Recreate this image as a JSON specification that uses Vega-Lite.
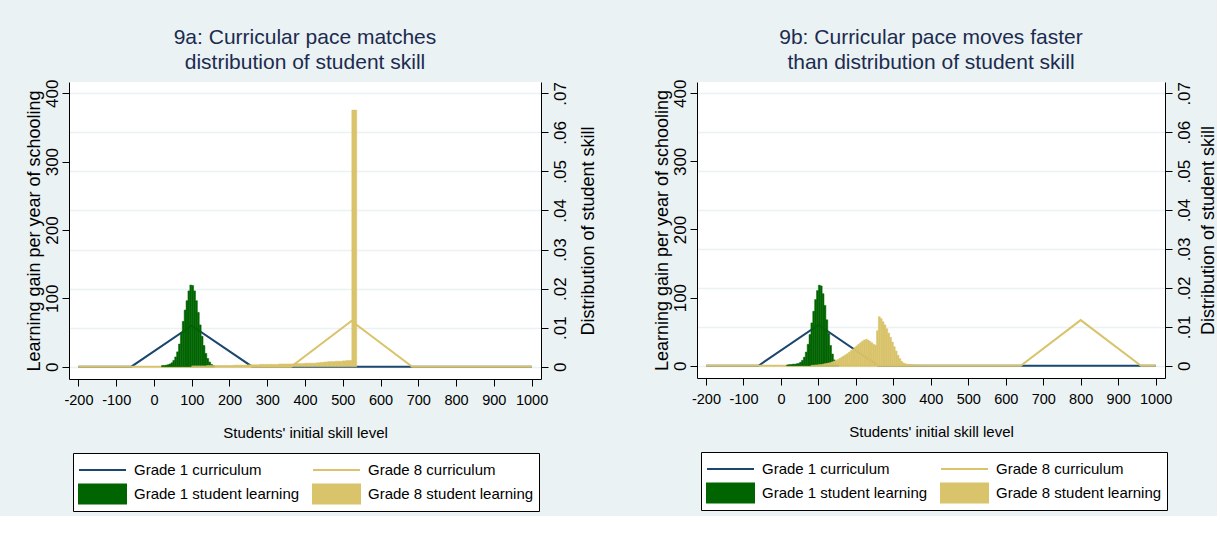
{
  "$schema": "https://vega.github.io/schema/vega-lite/v6.json",
  "background": "#eaf2f3",
  "padding": {"left": 25, "top": 27, "right": 0, "bottom": 4},
  "spacing": 56,
  "config": {
    "font": "Liberation Sans",
    "view": {"stroke": null, "fill": "white"},
    "axis": {
      "domainColor": "#000000", "tickColor": "#000000", "labelColor": "#000000", "titleColor": "#000000",
      "titleFontWeight": "normal", "domainWidth": 1, "tickWidth": 1, "tickSize": 7, "labelFlush": false, "labelOverlap": false, "grid": false
    },
    "axisX": {"labelOverlap": false, "labelSeparation": 0},
    "title": {"font": "Liberation Sans", "fontSize": 21, "fontWeight": "normal", "color": "#1c2b4f", "anchor": "middle", "frame": "group", "baseline": "bottom", "offset": 6, "lineHeight": 25}
  },
  "datasets": {
    "c1": [{"x": -200, "y": 0}, {"x": -60, "y": 0}, {"x": 100, "y": 60}, {"x": 260, "y": 0}, {"x": 1000, "y": 0}],
    "c8a": [{"x": -200, "y": 0}, {"x": 363, "y": 0}, {"x": 523, "y": 67}, {"x": 684, "y": 0}, {"x": 1000, "y": 0}],
    "c8b": [{"x": -200, "y": 0}, {"x": 640, "y": 0}, {"x": 800, "y": 67}, {"x": 961, "y": 0}, {"x": 1000, "y": 0}],
    "g1a": [
      {"x0": 20, "x1": 25, "d": 0.0003}, {"x0": 25, "x1": 30, "d": 0.0003}, {"x0": 30, "x1": 35, "d": 0.0004}, {"x0": 35, "x1": 40, "d": 0.0005},
      {"x0": 40, "x1": 45, "d": 0.0007}, {"x0": 45, "x1": 50, "d": 0.0010}, {"x0": 50, "x1": 55, "d": 0.0016}, {"x0": 55, "x1": 60, "d": 0.0025},
      {"x0": 60, "x1": 65, "d": 0.0038}, {"x0": 65, "x1": 70, "d": 0.0058}, {"x0": 70, "x1": 75, "d": 0.0087}, {"x0": 75, "x1": 80, "d": 0.0116},
      {"x0": 80, "x1": 85, "d": 0.0145}, {"x0": 85, "x1": 90, "d": 0.0169}, {"x0": 90, "x1": 95, "d": 0.0194}, {"x0": 95, "x1": 100, "d": 0.0209},
      {"x0": 100, "x1": 105, "d": 0.0208}, {"x0": 105, "x1": 110, "d": 0.0194}, {"x0": 110, "x1": 115, "d": 0.0169}, {"x0": 115, "x1": 120, "d": 0.0139},
      {"x0": 120, "x1": 125, "d": 0.0107}, {"x0": 125, "x1": 130, "d": 0.0078}, {"x0": 130, "x1": 135, "d": 0.0054}, {"x0": 135, "x1": 140, "d": 0.0034},
      {"x0": 140, "x1": 145, "d": 0.0021}, {"x0": 145, "x1": 150, "d": 0.0012}, {"x0": 150, "x1": 155, "d": 0.0006}, {"x0": 155, "x1": 160, "d": 0.0003}
    ],
    "g8a": [
      {"x0": 100, "x1": 110, "d": 0.0002}, {"x0": 110, "x1": 120, "d": 0.0002}, {"x0": 120, "x1": 130, "d": 0.0002}, {"x0": 130, "x1": 140, "d": 0.0002},
      {"x0": 140, "x1": 150, "d": 0.0003}, {"x0": 150, "x1": 160, "d": 0.0003}, {"x0": 160, "x1": 170, "d": 0.0003}, {"x0": 170, "x1": 180, "d": 0.0003},
      {"x0": 180, "x1": 190, "d": 0.0003}, {"x0": 190, "x1": 200, "d": 0.0003}, {"x0": 200, "x1": 210, "d": 0.0003}, {"x0": 210, "x1": 220, "d": 0.0004},
      {"x0": 220, "x1": 230, "d": 0.0004}, {"x0": 230, "x1": 240, "d": 0.0004}, {"x0": 240, "x1": 250, "d": 0.0004}, {"x0": 250, "x1": 260, "d": 0.0005},
      {"x0": 260, "x1": 270, "d": 0.0005}, {"x0": 270, "x1": 280, "d": 0.0005}, {"x0": 280, "x1": 290, "d": 0.0006}, {"x0": 290, "x1": 300, "d": 0.0006},
      {"x0": 300, "x1": 310, "d": 0.0006}, {"x0": 310, "x1": 320, "d": 0.0006}, {"x0": 320, "x1": 330, "d": 0.0006}, {"x0": 330, "x1": 340, "d": 0.0007},
      {"x0": 340, "x1": 350, "d": 0.0007}, {"x0": 350, "x1": 360, "d": 0.0007}, {"x0": 360, "x1": 370, "d": 0.0007}, {"x0": 370, "x1": 380, "d": 0.0008},
      {"x0": 380, "x1": 390, "d": 0.0008}, {"x0": 390, "x1": 400, "d": 0.0008}, {"x0": 400, "x1": 410, "d": 0.0009}, {"x0": 410, "x1": 420, "d": 0.0009},
      {"x0": 420, "x1": 430, "d": 0.0009}, {"x0": 430, "x1": 440, "d": 0.0010}, {"x0": 440, "x1": 450, "d": 0.0011}, {"x0": 450, "x1": 460, "d": 0.0012},
      {"x0": 460, "x1": 470, "d": 0.0013}, {"x0": 470, "x1": 480, "d": 0.0013}, {"x0": 480, "x1": 490, "d": 0.0014}, {"x0": 490, "x1": 500, "d": 0.0014},
      {"x0": 500, "x1": 510, "d": 0.0015}, {"x0": 510, "x1": 524, "d": 0.0016}, {"x0": 524, "x1": 537, "d": 0.0657}
    ],
    "g1b": [
      {"x0": 15, "x1": 20, "d": 0.0002}, {"x0": 20, "x1": 25, "d": 0.0003}, {"x0": 25, "x1": 30, "d": 0.0003}, {"x0": 30, "x1": 35, "d": 0.0004},
      {"x0": 35, "x1": 40, "d": 0.0004}, {"x0": 40, "x1": 45, "d": 0.0005}, {"x0": 45, "x1": 50, "d": 0.0006}, {"x0": 50, "x1": 55, "d": 0.0009},
      {"x0": 55, "x1": 60, "d": 0.0014}, {"x0": 60, "x1": 65, "d": 0.0022}, {"x0": 65, "x1": 70, "d": 0.0035}, {"x0": 70, "x1": 75, "d": 0.0055},
      {"x0": 75, "x1": 80, "d": 0.0080}, {"x0": 80, "x1": 85, "d": 0.0110}, {"x0": 85, "x1": 90, "d": 0.0140}, {"x0": 90, "x1": 95, "d": 0.0170},
      {"x0": 95, "x1": 100, "d": 0.0193}, {"x0": 100, "x1": 105, "d": 0.0207}, {"x0": 105, "x1": 110, "d": 0.0205}, {"x0": 110, "x1": 115, "d": 0.0185},
      {"x0": 115, "x1": 120, "d": 0.0155}, {"x0": 120, "x1": 125, "d": 0.0118}, {"x0": 125, "x1": 130, "d": 0.0083}, {"x0": 130, "x1": 135, "d": 0.0052},
      {"x0": 135, "x1": 140, "d": 0.0030}, {"x0": 140, "x1": 145, "d": 0.0015}, {"x0": 145, "x1": 150, "d": 0.0007}, {"x0": 150, "x1": 155, "d": 0.0003}
    ],
    "g8b": [
      {"x0": 80, "x1": 85, "d": 0.0001}, {"x0": 85, "x1": 90, "d": 0.0001}, {"x0": 90, "x1": 95, "d": 0.0002}, {"x0": 95, "x1": 100, "d": 0.0002},
      {"x0": 100, "x1": 105, "d": 0.0003}, {"x0": 105, "x1": 110, "d": 0.0003}, {"x0": 110, "x1": 115, "d": 0.0004}, {"x0": 115, "x1": 120, "d": 0.0005},
      {"x0": 120, "x1": 125, "d": 0.0006}, {"x0": 125, "x1": 130, "d": 0.0007}, {"x0": 130, "x1": 135, "d": 0.0008}, {"x0": 135, "x1": 140, "d": 0.0010},
      {"x0": 140, "x1": 145, "d": 0.0012}, {"x0": 145, "x1": 150, "d": 0.0014}, {"x0": 150, "x1": 155, "d": 0.0016}, {"x0": 155, "x1": 160, "d": 0.0019},
      {"x0": 160, "x1": 165, "d": 0.0022}, {"x0": 165, "x1": 170, "d": 0.0025}, {"x0": 170, "x1": 175, "d": 0.0028}, {"x0": 175, "x1": 180, "d": 0.0031},
      {"x0": 180, "x1": 185, "d": 0.0035}, {"x0": 185, "x1": 190, "d": 0.0039}, {"x0": 190, "x1": 195, "d": 0.0043}, {"x0": 195, "x1": 200, "d": 0.0047},
      {"x0": 200, "x1": 205, "d": 0.0051}, {"x0": 205, "x1": 210, "d": 0.0055}, {"x0": 210, "x1": 215, "d": 0.0059}, {"x0": 215, "x1": 220, "d": 0.0063},
      {"x0": 220, "x1": 225, "d": 0.0066}, {"x0": 225, "x1": 230, "d": 0.0068}, {"x0": 230, "x1": 235, "d": 0.0066}, {"x0": 235, "x1": 240, "d": 0.0063},
      {"x0": 240, "x1": 245, "d": 0.0059}, {"x0": 245, "x1": 250, "d": 0.0055}, {"x0": 250, "x1": 255, "d": 0.0053}, {"x0": 255, "x1": 260, "d": 0.0090},
      {"x0": 260, "x1": 265, "d": 0.0126}, {"x0": 265, "x1": 270, "d": 0.0121}, {"x0": 270, "x1": 275, "d": 0.0113}, {"x0": 275, "x1": 280, "d": 0.0105},
      {"x0": 280, "x1": 285, "d": 0.0095}, {"x0": 285, "x1": 290, "d": 0.0084}, {"x0": 290, "x1": 295, "d": 0.0073}, {"x0": 295, "x1": 300, "d": 0.0061},
      {"x0": 300, "x1": 305, "d": 0.0049}, {"x0": 305, "x1": 310, "d": 0.0038}, {"x0": 310, "x1": 315, "d": 0.0027}, {"x0": 315, "x1": 320, "d": 0.0018},
      {"x0": 320, "x1": 325, "d": 0.0011}, {"x0": 325, "x1": 330, "d": 0.0007}, {"x0": 330, "x1": 335, "d": 0.0005}, {"x0": 335, "x1": 340, "d": 0.0004},
      {"x0": 340, "x1": 345, "d": 0.0003}, {"x0": 345, "x1": 350, "d": 0.0003}, {"x0": 350, "x1": 355, "d": 0.0002}, {"x0": 355, "x1": 360, "d": 0.0002},
      {"x0": 360, "x1": 365, "d": 0.0001}, {"x0": 365, "x1": 370, "d": 0.0001}
    ]
  },
  "resolve": {"scale": {"x": "independent", "y": "independent", "color": "independent"}, "legend": {"color": "independent"}},
  "hconcat": [
    {
      "width": 472, "height": 297,
      "title": {"text": ["9a: Curricular pace matches", "distribution of student skill"]},
      "resolve": {"scale": {"y": "independent"}},
      "layer": [
        {
          "layer": [
            {
              "data": {"name": "c1"},
              "mark": {"type": "line", "strokeWidth": 2},
              "encoding": {
                "x": {"field": "x", "type": "quantitative", "scale": {"domain": [-225, 1025], "nice": false, "zero": false},
                  "axis": {"values": [-200, -100, 0, 100, 200, 300, 400, 500, 600, 700, 800, 900, 1000], "format": "d", "labelExpr": "replace(datum.label, '\u2212', '-')",
                    "labelOverlap": false, "labelSeparation": 0,
                    "title": "Students' initial skill level", "titleFontSize": 15, "titlePadding": 19,
                    "labelFontSize": 14.5, "labelPadding": 7}},
                "y": {"field": "y", "type": "quantitative", "scale": {"domain": [-18, 416.5], "nice": false, "zero": false},
                  "axis": {"orient": "left", "values": [0, 100, 200, 300, 400], "title": "Learning gain per year of schooling", "titleFontSize": 18, "titlePadding": 0,
                    "labelAngle": 270, "labelAlign": "center", "labelBaseline": "bottom", "labelFontSize": 17, "labelPadding": 1}},
                "color": {"datum": "Grade 1 curriculum", "type": "nominal", "title": null,
                  "scale": {"domain": ["Grade 1 curriculum", "Grade 8 curriculum", "Grade 1 student learning", "Grade 8 student learning"], "range": ["#1a476f", "#d9c36b", "#006400", "#d9c36b"]},
                  "legend": {
                    "orient": "none", "direction": "horizontal", "legendX": 4, "legendY": 371, "columns": 2, "title": null,
                    "values": ["Grade 1 curriculum", "Grade 8 curriculum", "Grade 1 student learning", "Grade 8 student learning"],
                    "symbolSize": 2209, "clipHeight": 24, "symbolStrokeWidth": 2,
                    "labelFont": "Liberation Sans", "labelFontSize": 15, "labelColor": "#000000", "labelOffset": 7, "labelLimit": 400,
                    "columnPadding": 12, "rowPadding": 0, "padding": 5,
                    "strokeColor": "#000000", "fillColor": "#ffffff",
                    "encode": {"symbols": {"update": {
                      "shape": {"signal": "indexof(datum.value, 'curriculum') >= 0 ? 'M-1,0H1' : 'M-1,-0.404H1V0.404H-1Z'"},
                      "fill": {"signal": "datum.value == 'Grade 1 student learning' ? '#006400' : (datum.value == 'Grade 8 student learning' ? '#d9c36b' : 'transparent')"},
                      "stroke": {"signal": "datum.value == 'Grade 1 curriculum' ? '#1a476f' : (datum.value == 'Grade 8 curriculum' ? '#d9c36b' : 'transparent')"},
                      "strokeWidth": {"value": 2},
                      "opacity": {"value": 1}
                    }}}
                  }}
              }
            },
            {
              "data": {"name": "c8a"},
              "mark": {"type": "line", "strokeWidth": 2},
              "encoding": {
                "x": {"field": "x", "type": "quantitative",
                  "axis": {"values": [-200, -100, 0, 100, 200, 300, 400, 500, 600, 700, 800, 900, 1000], "format": "d", "labelExpr": "replace(datum.label, '\u2212', '-')",
                    "labelOverlap": false, "labelSeparation": 0,
                    "title": "Students' initial skill level", "titleFontSize": 15, "titlePadding": 19,
                    "labelFontSize": 14.5, "labelPadding": 7}},
                "y": {"field": "y", "type": "quantitative"},
                "color": {"datum": "Grade 8 curriculum", "type": "nominal", "title": null}
              }
            }
          ]
        },
        {
          "layer": [
            {
              "data": {"name": "g1a"},
              "mark": {"type": "bar", "stroke": "#006400", "strokeWidth": 0.5},
              "encoding": {
                "x": {"field": "x0", "type": "quantitative",
                  "axis": {"values": [-200, -100, 0, 100, 200, 300, 400, 500, 600, 700, 800, 900, 1000], "format": "d", "labelExpr": "replace(datum.label, '\u2212', '-')",
                    "labelOverlap": false, "labelSeparation": 0,
                    "title": "Students' initial skill level", "titleFontSize": 15, "titlePadding": 19,
                    "labelFontSize": 14.5, "labelPadding": 7}},
                "x2": {"field": "x1"},
                "y": {"field": "d", "type": "quantitative", "scale": {"domain": [-0.00315, 0.0729], "nice": false, "zero": false},
                  "axis": {"orient": "right", "values": [0, 0.01, 0.02, 0.03, 0.04, 0.05, 0.06, 0.07],
                    "labelExpr": "datum.value == 0 ? '0' : replace(format(datum.value, '.2f'), '0.', '.')",
                    "title": "Distribution of student skill", "titleFontSize": 18, "titleAngle": 270, "titleBaseline": "top", "titlePadding": 11,
                    "labelAngle": 270, "labelAlign": "center", "labelBaseline": "top", "labelFontSize": 17, "labelPadding": 4,
                    "grid": true, "gridColor": "#eaf2f3", "gridWidth": 1.3}},
                "y2": {"datum": 0},
                "color": {"datum": "Grade 1 student learning", "type": "nominal", "title": null}
              }
            },
            {
              "data": {"name": "g8a"},
              "mark": {"type": "bar", "stroke": "#d9c36b", "strokeWidth": 0.5},
              "encoding": {
                "x": {"field": "x0", "type": "quantitative",
                  "axis": {"values": [-200, -100, 0, 100, 200, 300, 400, 500, 600, 700, 800, 900, 1000], "format": "d", "labelExpr": "replace(datum.label, '\u2212', '-')",
                    "labelOverlap": false, "labelSeparation": 0,
                    "title": "Students' initial skill level", "titleFontSize": 15, "titlePadding": 19,
                    "labelFontSize": 14.5, "labelPadding": 7}},
                "x2": {"field": "x1"},
                "y": {"field": "d", "type": "quantitative"},
                "y2": {"datum": 0},
                "color": {"datum": "Grade 8 student learning", "type": "nominal", "title": null}
              }
            }
          ]
        }
      ]
    },
    {
      "width": 468, "height": 296,
      "title": {"text": ["9b: Curricular pace moves faster", "than distribution of student skill"]},
      "resolve": {"scale": {"y": "independent"}},
      "layer": [
        {
          "layer": [
            {
              "data": {"name": "c1"},
              "mark": {"type": "line", "strokeWidth": 2},
              "encoding": {
                "x": {"field": "x", "type": "quantitative", "scale": {"domain": [-224, 1025], "nice": false, "zero": false},
                  "axis": {"values": [-200, -100, 0, 100, 200, 300, 400, 500, 600, 700, 800, 900, 1000], "format": "d", "labelExpr": "replace(datum.label, '\u2212', '-')",
                    "labelOverlap": false, "labelSeparation": 0,
                    "title": "Students' initial skill level", "titleFontSize": 15, "titlePadding": 19,
                    "labelFontSize": 14.5, "labelPadding": 7}},
                "y": {"field": "y", "type": "quantitative", "scale": {"domain": [-18, 416.5], "nice": false, "zero": false},
                  "axis": {"orient": "left", "values": [0, 100, 200, 300, 400], "title": "Learning gain per year of schooling", "titleFontSize": 18, "titlePadding": 0,
                    "labelAngle": 270, "labelAlign": "center", "labelBaseline": "bottom", "labelFontSize": 17, "labelPadding": 1}},
                "color": {"datum": "Grade 1 curriculum", "type": "nominal", "title": null,
                  "scale": {"domain": ["Grade 1 curriculum", "Grade 8 curriculum", "Grade 1 student learning", "Grade 8 student learning"], "range": ["#1a476f", "#d9c36b", "#006400", "#d9c36b"]},
                  "legend": {
                    "orient": "none", "direction": "horizontal", "legendX": 4, "legendY": 370, "columns": 2, "title": null,
                    "values": ["Grade 1 curriculum", "Grade 8 curriculum", "Grade 1 student learning", "Grade 8 student learning"],
                    "symbolSize": 2209, "clipHeight": 24, "symbolStrokeWidth": 2,
                    "labelFont": "Liberation Sans", "labelFontSize": 15, "labelColor": "#000000", "labelOffset": 7, "labelLimit": 400,
                    "columnPadding": 12, "rowPadding": 0, "padding": 5,
                    "strokeColor": "#000000", "fillColor": "#ffffff",
                    "encode": {"symbols": {"update": {
                      "shape": {"signal": "indexof(datum.value, 'curriculum') >= 0 ? 'M-1,0H1' : 'M-1,-0.404H1V0.404H-1Z'"},
                      "fill": {"signal": "datum.value == 'Grade 1 student learning' ? '#006400' : (datum.value == 'Grade 8 student learning' ? '#d9c36b' : 'transparent')"},
                      "stroke": {"signal": "datum.value == 'Grade 1 curriculum' ? '#1a476f' : (datum.value == 'Grade 8 curriculum' ? '#d9c36b' : 'transparent')"},
                      "strokeWidth": {"value": 2},
                      "opacity": {"value": 1}
                    }}}
                  }}
              }
            },
            {
              "data": {"name": "c8b"},
              "mark": {"type": "line", "strokeWidth": 2},
              "encoding": {
                "x": {"field": "x", "type": "quantitative",
                  "axis": {"values": [-200, -100, 0, 100, 200, 300, 400, 500, 600, 700, 800, 900, 1000], "format": "d", "labelExpr": "replace(datum.label, '\u2212', '-')",
                    "labelOverlap": false, "labelSeparation": 0,
                    "title": "Students' initial skill level", "titleFontSize": 15, "titlePadding": 19,
                    "labelFontSize": 14.5, "labelPadding": 7}},
                "y": {"field": "y", "type": "quantitative"},
                "color": {"datum": "Grade 8 curriculum", "type": "nominal", "title": null}
              }
            }
          ]
        },
        {
          "layer": [
            {
              "data": {"name": "g1b"},
              "mark": {"type": "bar", "stroke": "#006400", "strokeWidth": 0.5},
              "encoding": {
                "x": {"field": "x0", "type": "quantitative",
                  "axis": {"values": [-200, -100, 0, 100, 200, 300, 400, 500, 600, 700, 800, 900, 1000], "format": "d", "labelExpr": "replace(datum.label, '\u2212', '-')",
                    "labelOverlap": false, "labelSeparation": 0,
                    "title": "Students' initial skill level", "titleFontSize": 15, "titlePadding": 19,
                    "labelFontSize": 14.5, "labelPadding": 7}},
                "x2": {"field": "x1"},
                "y": {"field": "d", "type": "quantitative", "scale": {"domain": [-0.00315, 0.0729], "nice": false, "zero": false},
                  "axis": {"orient": "right", "values": [0, 0.01, 0.02, 0.03, 0.04, 0.05, 0.06, 0.07],
                    "labelExpr": "datum.value == 0 ? '0' : replace(format(datum.value, '.2f'), '0.', '.')",
                    "title": "Distribution of student skill", "titleFontSize": 18, "titleAngle": 270, "titleBaseline": "top", "titlePadding": 7,
                    "labelAngle": 270, "labelAlign": "center", "labelBaseline": "top", "labelFontSize": 17, "labelPadding": 4,
                    "grid": true, "gridColor": "#eaf2f3", "gridWidth": 1.3}},
                "y2": {"datum": 0},
                "color": {"datum": "Grade 1 student learning", "type": "nominal", "title": null}
              }
            },
            {
              "data": {"name": "g8b"},
              "mark": {"type": "bar", "stroke": "#d9c36b", "strokeWidth": 0.5},
              "encoding": {
                "x": {"field": "x0", "type": "quantitative",
                  "axis": {"values": [-200, -100, 0, 100, 200, 300, 400, 500, 600, 700, 800, 900, 1000], "format": "d", "labelExpr": "replace(datum.label, '\u2212', '-')",
                    "labelOverlap": false, "labelSeparation": 0,
                    "title": "Students' initial skill level", "titleFontSize": 15, "titlePadding": 19,
                    "labelFontSize": 14.5, "labelPadding": 7}},
                "x2": {"field": "x1"},
                "y": {"field": "d", "type": "quantitative"},
                "y2": {"datum": 0},
                "color": {"datum": "Grade 8 student learning", "type": "nominal", "title": null}
              }
            }
          ]
        }
      ]
    }
  ]
}
